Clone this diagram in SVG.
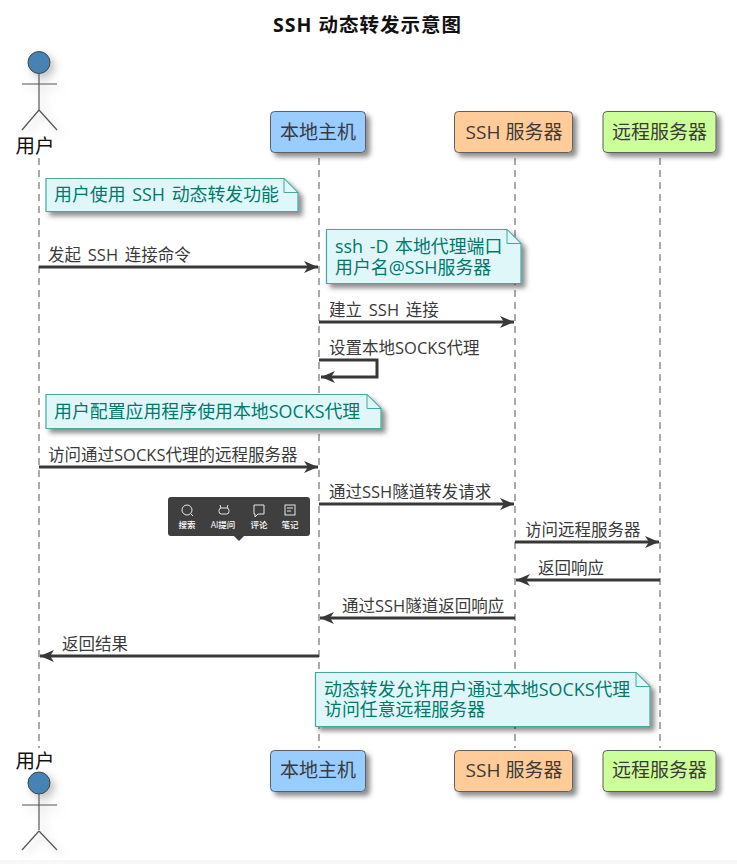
<svg xmlns="http://www.w3.org/2000/svg" width="737" height="864" viewBox="0 0 737 864">
  <style>
    text { font-family: "Open Sans", "Noto Sans CJK SC", sans-serif; }
    .life { stroke: #555; stroke-width: 1; stroke-dasharray: 7 5; fill: none; }
    .msg { stroke: #383838; stroke-width: 3; fill: none; }
    .mlabel { font-size: 16.500px; fill: #3a3a3a; word-spacing: 2.500px; }
    .box { stroke: #5f5f5f; stroke-width: 1; }
    .blabel { font-size: 19px; fill: #3a3a3a; text-anchor: middle; }
    .note { fill: #e0f7fa; stroke: #45a89c; stroke-width: 1.2; }
    .fold { fill: #e0f7fa; stroke: #45a89c; stroke-width: 1; }
    .ntext { font-size: 17.900px; fill: #00796b; word-spacing: 2px; }
    .body { stroke: #555; stroke-width: 1.2; fill: none; }
    .head { fill: #4682b4; stroke: #444; stroke-width: 1; }
    .alabel { font-size: 19.500px; fill: #111; text-anchor: middle; }
    .tip { font-size: 8.500px; font-weight: 500; fill: #fff; text-anchor: middle; }
    .ico { fill: none; stroke: #e8e8e8; stroke-width: 1; }
  </style>
  <defs>
    <filter id="sh" x="-20%" y="-30%" width="140%" height="170%">
      <feDropShadow dx="4" dy="4" stdDeviation="2.5" flood-color="#000" flood-opacity="0.45"/>
    </filter>
    <filter id="soft" x="-30%" y="-30%" width="170%" height="170%">
      <feDropShadow dx="4" dy="4" stdDeviation="4" flood-color="#000" flood-opacity="0.25"/>
    </filter>
    <marker id="ah" markerUnits="userSpaceOnUse" markerWidth="16" markerHeight="14" refX="14" refY="6" orient="auto">
      <path d="M0 0 L14 6 L0 12 L4 6 Z" fill="#383838"/>
    </marker>
  </defs>

  <rect width="737" height="864" fill="#fff"/>
  <rect y="860" width="737" height="4" fill="#f7f7f7"/>

  <text id="title" x="367.500" y="32" font-size="19.500" font-weight="700" letter-spacing="1" fill="#111" text-anchor="middle">SSH 动态转发示意图</text>

  <g id="lifelines">
    <line class="life" x1="39" y1="158" x2="39" y2="748"/>
    <line class="life" x1="319" y1="158" x2="319" y2="748"/>
    <line class="life" x1="515" y1="158" x2="515" y2="748"/>
    <line class="life" x1="660" y1="158" x2="660" y2="748"/>
  </g>

  <g id="connectors">
    <line class="msg" x1="39" y1="267" x2="318" y2="267" marker-end="url(#ah)"/>
    <text class="mlabel" x="48" y="261">发起 SSH 连接命令</text>
    <line class="msg" x1="319" y1="322" x2="514" y2="322" marker-end="url(#ah)"/>
    <text class="mlabel" x="329" y="316">建立 SSH 连接</text>
    <polyline class="msg" points="319,360 377,360 377,377 321,377" marker-end="url(#ah)"/>
    <text class="mlabel" x="329" y="354">设置本地SOCKS代理</text>
    <line class="msg" x1="39" y1="467" x2="318" y2="467" marker-end="url(#ah)"/>
    <text class="mlabel" x="48" y="461">访问通过SOCKS代理的远程服务器</text>
    <line class="msg" x1="319" y1="504" x2="514" y2="504" marker-end="url(#ah)"/>
    <text class="mlabel" x="329" y="498">通过SSH隧道转发请求</text>
    <line class="msg" x1="515" y1="542" x2="659" y2="542" marker-end="url(#ah)"/>
    <text class="mlabel" x="525" y="536">访问远程服务器</text>
    <line class="msg" x1="660" y1="580" x2="516" y2="580" marker-end="url(#ah)"/>
    <text class="mlabel" x="538" y="574">返回响应</text>
    <line class="msg" x1="515" y1="618" x2="320" y2="618" marker-end="url(#ah)"/>
    <text class="mlabel" x="342" y="612">通过SSH隧道返回响应</text>
    <line class="msg" x1="319" y1="656" x2="40" y2="656" marker-end="url(#ah)"/>
    <text class="mlabel" x="62" y="650">返回结果</text>
  </g>

  <g id="actor-top">
    <g filter="url(#soft)">
      <circle class="head" cx="39" cy="62.500" r="11"/>
      <path class="body" d="M39 74V110M22 84H57M39 110L22 130M39 110L57 130"/>
    </g>
    <text class="alabel" x="35" y="153">用户</text>
  </g>
  <g id="actor-bottom">
    <text class="alabel" x="35" y="768">用户</text>
    <g filter="url(#soft)">
      <circle class="head" cx="39" cy="783" r="11"/>
      <path class="body" d="M39 794V830M22 805H57M39 831L22 850M39 831L57 850"/>
    </g>
  </g>

  <g id="host-top">
    <rect class="box" x="270.500" y="111.500" width="95" height="41" rx="4" fill="#99ccff" filter="url(#sh)"/>
    <text class="blabel" x="318" y="139">本地主机</text>
  </g>
  <g id="ssh-top">
    <rect class="box" x="454.500" y="111.500" width="118" height="41" rx="4" fill="#ffcc99" filter="url(#sh)"/>
    <text class="blabel" x="514" y="139" font-size="19.500">SSH 服务器</text>
  </g>
  <g id="remote-top">
    <rect class="box" x="603" y="111.500" width="113" height="41" rx="4" fill="#ccff99" filter="url(#sh)"/>
    <text class="blabel" x="659.500" y="139">远程服务器</text>
  </g>
  <g id="host-bottom">
    <rect class="box" x="270.500" y="750.500" width="95" height="41" rx="4" fill="#99ccff" filter="url(#sh)"/>
    <text class="blabel" x="318" y="777">本地主机</text>
  </g>
  <g id="ssh-bottom">
    <rect class="box" x="454.500" y="750.500" width="118" height="41" rx="4" fill="#ffcc99" filter="url(#sh)"/>
    <text class="blabel" x="514" y="777" font-size="19.500">SSH 服务器</text>
  </g>
  <g id="remote-bottom">
    <rect class="box" x="603" y="750.500" width="113" height="41" rx="4" fill="#ccff99" filter="url(#sh)"/>
    <text class="blabel" x="659.500" y="777">远程服务器</text>
  </g>

  <g id="note-feature">
    <path class="note" filter="url(#sh)" d="M46 178.500H284L298 192.500V211.500H46Z"/>
    <path class="fold" d="M284 178.500V192.500H298Z"/>
    <text class="ntext" x="54" y="201">用户使用 SSH 动态转发功能</text>
  </g>
  <g id="note-command">
    <path class="note" filter="url(#sh)" d="M326.500 229.500H507L521 243.500V283.500H326.500Z"/>
    <path class="fold" d="M507 229.500V243.500H521Z"/>
    <text class="ntext"><tspan x="335" y="253">ssh -D 本地代理端口</tspan><tspan x="335" y="274">用户名@SSH服务器</tspan></text>
  </g>
  <g id="note-config">
    <path class="note" filter="url(#sh)" d="M46 394.500H367L381 408.500V428.500H46Z"/>
    <path class="fold" d="M367 394.500V408.500H381Z"/>
    <text class="ntext" x="54" y="418">用户配置应用程序使用本地SOCKS代理</text>
  </g>
  <g id="note-summary">
    <path class="note" filter="url(#sh)" d="M315.500 672.500H636L650 686.500V726.500H315.500Z"/>
    <path class="fold" d="M636 672.500V686.500H650Z"/>
    <text class="ntext"><tspan x="324" y="696">动态转发允许用户通过本地SOCKS代理</tspan><tspan x="324" y="716">访问任意远程服务器</tspan></text>
  </g>

  <g id="toolbar">
    <path d="M171 497H307Q310 497 310 500V533Q310 536 307 536H244L239 541L234 536H171Q168 536 168 533V500Q168 497 171 497Z" fill="#3f3f3f"/>
    <circle class="ico" cx="187" cy="510" r="5"/>
    <path class="ico" d="M191 514L193 516"/>
    <rect class="ico" x="219" y="508" width="10" height="6" rx="2.500"/>
    <path class="ico" d="M221 508L220 505M227 508L228 505"/>
    <path class="ico" d="M254 505H264V514H258L255 517V514H254Z"/>
    <rect class="ico" x="285" y="505" width="10" height="10"/>
    <path class="ico" d="M287 508H293M287 511H291"/>
    <text class="tip" x="187" y="528">搜索</text>
    <text class="tip" x="223" y="528">AI提问</text>
    <text class="tip" x="259" y="528">评论</text>
    <text class="tip" x="290" y="528">笔记</text>
  </g>
</svg>
